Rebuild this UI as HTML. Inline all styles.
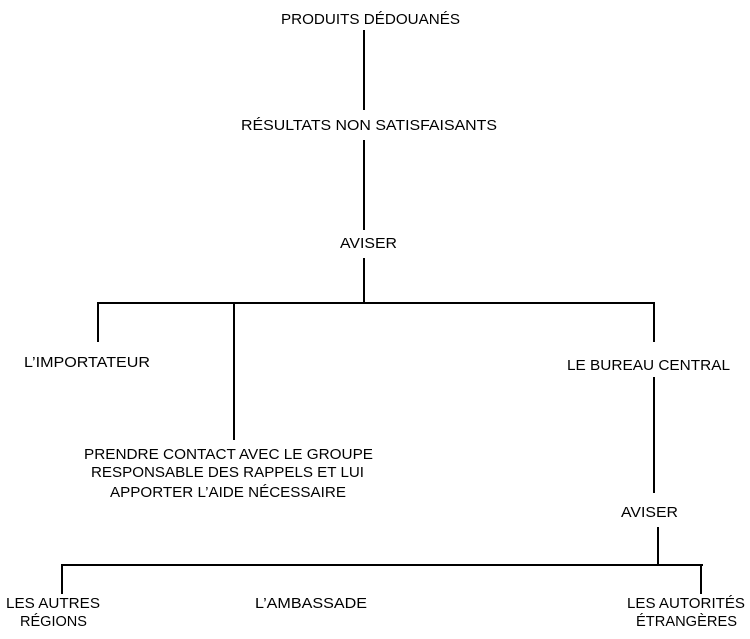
<!DOCTYPE html>
<html><head><meta charset="utf-8"><style>
html,body{margin:0;padding:0;background:#fff;width:750px;height:639px;overflow:hidden}
svg{display:block}
text{font-family:"Liberation Sans",sans-serif;font-size:15px;fill:#000}
</style></head><body>
<svg width="750" height="639" viewBox="0 0 750 639" xmlns="http://www.w3.org/2000/svg">
<g stroke="#000" stroke-width="2" fill="none">
<line x1="364" y1="30" x2="364" y2="110"/>
<line x1="364" y1="140" x2="364" y2="230"/>
<line x1="364" y1="258" x2="364" y2="303"/>
<line x1="97" y1="303" x2="655" y2="303"/>
<line x1="98" y1="303" x2="98" y2="342"/>
<line x1="234" y1="303" x2="234" y2="440"/>
<line x1="654" y1="303" x2="654" y2="342"/>
<line x1="654" y1="377" x2="654" y2="493"/>
<line x1="658" y1="527" x2="658" y2="565"/>
<line x1="61" y1="565" x2="703" y2="565"/>
<line x1="62" y1="565" x2="62" y2="594"/>
<line x1="701" y1="565" x2="701" y2="594"/>
</g>
<text x="281" y="24" textLength="179" lengthAdjust="spacingAndGlyphs">PRODUITS DÉDOUANÉS</text>
<text x="241" y="130" textLength="256" lengthAdjust="spacingAndGlyphs">RÉSULTATS NON SATISFAISANTS</text>
<text x="340" y="248" textLength="57" lengthAdjust="spacingAndGlyphs">AVISER</text>
<text x="24" y="367" textLength="126" lengthAdjust="spacingAndGlyphs">L’IMPORTATEUR</text>
<text x="567" y="370" textLength="163" lengthAdjust="spacingAndGlyphs">LE BUREAU CENTRAL</text>
<text x="84" y="459" textLength="289" lengthAdjust="spacingAndGlyphs">PRENDRE CONTACT AVEC LE GROUPE</text>
<text x="91" y="477" textLength="273" lengthAdjust="spacingAndGlyphs">RESPONSABLE DES RAPPELS ET LUI</text>
<text x="110" y="497" textLength="236" lengthAdjust="spacingAndGlyphs">APPORTER L’AIDE NÉCESSAIRE</text>
<text x="621" y="517" textLength="57" lengthAdjust="spacingAndGlyphs">AVISER</text>
<text x="6" y="608" textLength="94" lengthAdjust="spacingAndGlyphs">LES AUTRES</text>
<text x="20" y="626" textLength="67" lengthAdjust="spacingAndGlyphs">RÉGIONS</text>
<text x="255" y="608" textLength="112" lengthAdjust="spacingAndGlyphs">L’AMBASSADE</text>
<text x="627" y="608" textLength="118" lengthAdjust="spacingAndGlyphs">LES AUTORITÉS</text>
<text x="636" y="626" textLength="101" lengthAdjust="spacingAndGlyphs">ÉTRANGÈRES</text>
</svg>
</body></html>
